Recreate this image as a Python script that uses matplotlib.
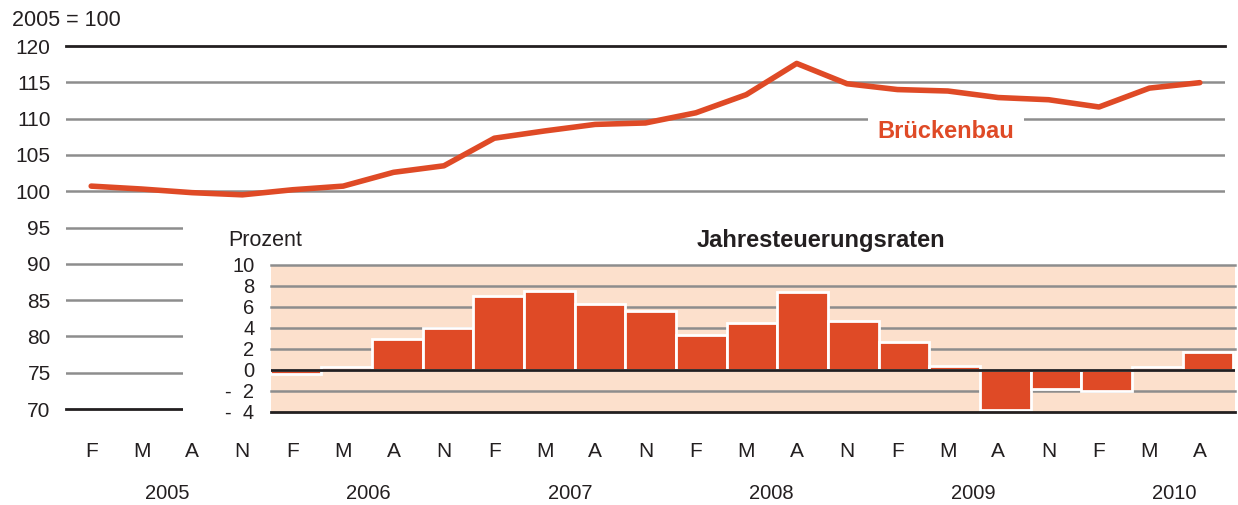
import matplotlib
import matplotlib.pyplot as plt
import numpy as np

matplotlib.use('Agg')
plt.rcParams['font.family'] = ['Liberation Sans', 'DejaVu Sans']

# quarterly index values, 2005 = 100
months = ['F', 'M', 'A', 'N'] * 5 + ['F', 'M', 'A']
years = ['2005', '2006', '2007', '2008', '2009', '2010']
index_vals = [100.7, 100.3, 99.8, 99.5, 100.2, 100.7, 102.6, 103.5,
              107.3, 108.3, 109.2, 109.4, 110.8, 113.3, 117.6, 114.8,
              114.0, 113.8, 112.9, 112.6, 111.6, 114.2, 114.95]

# annual rates (Prozent), from F 2006 on
rates = [-0.4, 0.26, 2.9, 3.95, 7.05, 7.5, 6.3, 5.57, 3.28, 4.5,
         7.45, 4.65, 2.68, 0.35, -3.8, -1.87, -2.07, 0.26, 1.66]
rate_ticks = [10, 8, 6, 4, 2, 0, -2, -4]
rate_labels = ['10', '8', '6', '4', '2', '0', '-  2', '-  4']

RED = '#df4a26'
GREY = '#8d8d8d'
DARK = '#231f20'
PEACH = '#fce0cc'

W, H = 1238, 505
fig = plt.figure(figsize=(W / 100, H / 100), dpi=100)

def frac(x0, y0, x1, y1):
    # pixel box -> figure fraction [left, bottom, width, height]
    return [x0 / W, 1 - y1 / H, (x1 - x0) / W, (y1 - y0) / H]

ax = fig.add_axes(frac(66, 46, 1225, 409))
ax.set_xlim(-0.5, 22.5)
ax.set_ylim(70, 120)
for s in ax.spines.values():
    s.set_visible(False)
for v in range(75, 120, 5):
    ax.axhline(v, color=GREY, lw=1.8, zorder=1)
ax.axhline(120, color=DARK, lw=2, zorder=1, clip_on=False)
ax.axhline(70, color=DARK, lw=2, zorder=1, clip_on=False)

x = np.arange(len(index_vals))
ax.plot(x, index_vals, color=RED, lw=4, solid_capstyle='round', zorder=3)

ax.set_yticks(range(70, 125, 5))
ax.tick_params(axis='y', length=0, pad=11, labelsize=15, labelcolor=DARK)
ax.set_xticks([])

for i, m in enumerate(months):
    ax.text(i, 64.1, m, ha='center', va='center', fontsize=15, color=DARK, clip_on=False)
for j, yr in enumerate(years):
    ax.text(4 * j + 1.5, 58.3, yr, ha='center', va='center', fontsize=14.5, color=DARK, clip_on=False)

ax.text(946 / W, 1 - 131 / H, 'Brückenbau', transform=fig.transFigure, ha='center', va='center',
        fontsize=17, fontweight='bold', color=RED, zorder=4,
        bbox=dict(facecolor='white', edgecolor='none', pad=7))

fig.text(12 / W, 1 - 20 / H, '2005 = 100', ha='left', va='center', fontsize=15.5, color=DARK)

# white area holding the inset
cover = fig.add_axes(frac(183, 205, W, 425))
cover.set_facecolor('white')
cover.set_xticks([])
cover.set_yticks([])
for s in cover.spines.values():
    s.set_visible(False)

bx = fig.add_axes(frac(271, 265, 1235, 411.7))
bx.set_facecolor(PEACH)
for s in bx.spines.values():
    s.set_visible(False)
bx.set_ylim(-4, 10)
bx.set_xlim(-0.49, 18.53)
for v in [10, 8, 6, 4, 2, -2]:
    bx.axhline(v, color=GREY, lw=1.8, zorder=1, clip_on=False)
bx.axhline(0, color=DARK, lw=2, zorder=3)
bx.axhline(-4, color=DARK, lw=2, zorder=3, clip_on=False)
bx.bar(np.arange(len(rates)), rates, width=1.0, color=RED, edgecolor='white', linewidth=2, zorder=2)
bx.set_xticks([])
bx.set_yticks(rate_ticks)
bx.set_yticklabels(rate_labels)
bx.tick_params(axis='y', length=0, pad=12, labelsize=14.5, labelcolor=DARK)

fig.text(265 / W, 1 - 240 / H, 'Prozent', ha='center', va='center', fontsize=15.5, color=DARK)
fig.text(821 / W, 1 - 240 / H, 'Jahresteuerungsraten', ha='center', va='center',
         fontsize=17, fontweight='bold', color=DARK)

fig.savefig('out.png', dpi=100)
